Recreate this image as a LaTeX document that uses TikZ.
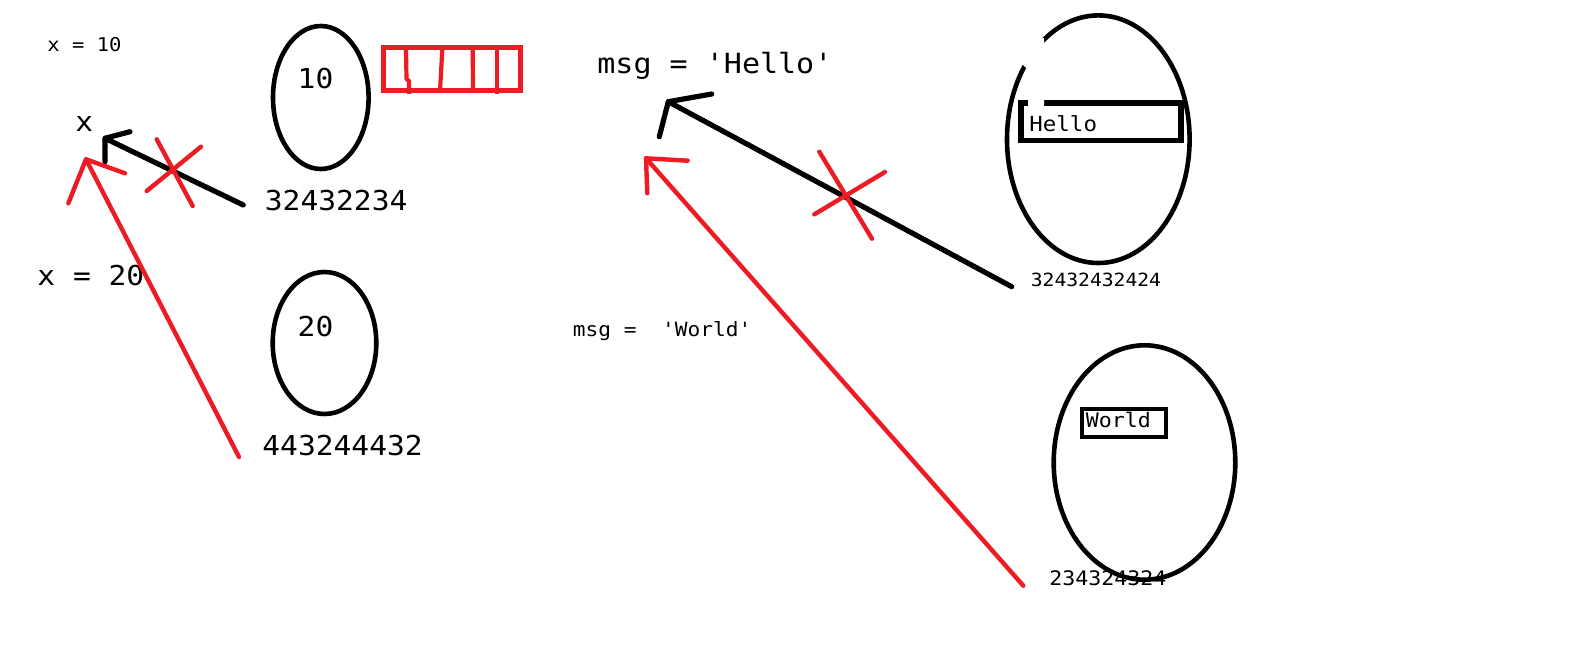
\documentclass[tikz,border=0pt]{standalone}
\usepackage{fontspec}
\setmonofont[FakeStretch=1.08]{DejaVu Sans Mono}
\usetikzlibrary{shapes.geometric}
\definecolor{paintred}{HTML}{ED1C24}
\begin{document}
\begin{tikzpicture}[x=0.5pt,y=-0.5pt,
  lbl/.style={inner sep=0pt, anchor=base west, font=\ttfamily\fontsize{#1}{#1}\selectfont},
  clbl/.style={inner sep=0pt, anchor=base, font=\ttfamily\fontsize{#1}{#1}\selectfont},
  memcell/.style={draw=black, ellipse, line width=2.3pt, inner sep=0pt},
  boxcell/.style={draw=black, rectangle, line width=2.6pt, inner sep=0pt},
  blkline/.style={draw=black, line width=2.6pt, line cap=round, line join=round},
  redline/.style={draw=paintred, line width=2.2pt, line cap=round, line join=round}
]
\useasboundingbox (0,0) rectangle (1586,663);
\fill[white] (0,0) rectangle (1586,663);

% ---------- left part ----------
\node[lbl=9.5] (xten) at (47,51.3) {x = 10};
\node[clbl=13.7] (xvar) at (84.2,131.7) {x};
\node[lbl=13.7] (xtwenty) at (37,285.5) {x = 20};

\node[memcell, minimum width=47.8pt, minimum height=71.5pt] (cellA) at (320.8,97.5) {};
\node[clbl=13.7] (vten) at (315.5,89) {10};
\node[lbl=13.7] (addrA) at (264.5,210.7) {32432234};

\node[memcell, minimum width=51.8pt, minimum height=71pt] (cellB) at (324.5,343) {};
\node[clbl=13.7] (vtwenty) at (315.5,336) {20};
\node[lbl=13.7] (addrB) at (262,455.5) {443244432};

% red bytes box
\node[draw=paintred, rectangle, line width=2.6pt, inner sep=0pt,
      minimum width=68.7pt, minimum height=21.5pt] (bytes) at (452,69.2) {};
\draw[redline, line width=2.1pt, line cap=butt] (406,49) -- (406.5,79) -- (409,81) -- (409,94);
\draw[redline, line width=2.1pt, line cap=butt] (442.3,50) -- (440,91);
\draw[redline, line width=2.1pt, line cap=butt] (472.7,49) -- (473,89);
\draw[redline, line width=2.1pt, line cap=butt] (497.3,49) -- (497.3,94);

% black arrow 32432234 -> x
\coordinate (bAs) at (243.3,205);
\coordinate (bAt) at (105,138.3);
\coordinate (bAh1) at (130,131.7);
\coordinate (bAh2) at (105,161.7);
\draw[blkline] (bAs) -- (bAt);
\draw[blkline] (bAh1) -- (bAt) -- (bAh2);

% red cross
\draw[redline] (156.7,139.3) -- (192.7,206);
\draw[redline] (201,146.7) -- (146.7,191);

% red arrow 443244432 -> x
\coordinate (rAs) at (239,457);
\coordinate (rAt) at (86,159.3);
\coordinate (rAh1) at (68.3,203.3);
\coordinate (rAh2) at (125,173.3);
\draw[redline] (rAs) -- (rAt);
\draw[redline] (rAh1) -- (rAt) -- (rAh2);

% ---------- right part ----------
\node[lbl=13.9] (msgH) at (597,73.3) {msg = 'Hello'};
\node[lbl=9.8] (msgW) at (572.5,336.7) {msg =\ \ 'World'};

\node[memcell, minimum width=91.3pt, minimum height=123.8pt] (cellC) at (1098.3,139.2) {};
\node[boxcell, minimum width=80pt, minimum height=18.75pt] (boxH) at (1101,121.75) {};
\fill[white] (1020,62) -- (1036,37) -- (1044,38) -- (1044,107.5) -- (1028,107.5) -- (1028,70) -- cycle;
\node[lbl=10.4] (hello) at (1029,131.7) {Hello};
\node[lbl=9.1] (addrC) at (1030.5,286.7) {32432432424};

\node[memcell, minimum width=90.8pt, minimum height=117.2pt] (cellD) at (1144.5,462.5) {};
\node[boxcell, line width=2.2pt, minimum width=41.85pt, minimum height=13.85pt] (boxW) at (1123.85,423.15) {};
\node[lbl=10] (world) at (1085.5,427.3) {World};
\node[lbl=10] (addrD) at (1049,585) {234324324};

% black arrow 32432432424 -> msg
\coordinate (bBs) at (1011.7,286.7);
\coordinate (bBt) at (668.3,101.7);
\coordinate (bBh1) at (711.7,94);
\coordinate (bBh2) at (659.3,136.7);
\draw[blkline] (bBs) -- (bBt);
\draw[blkline] (bBh1) -- (bBt) -- (bBh2);

% red cross
\draw[redline] (819.3,151.7) -- (872,238.7);
\draw[redline] (885,172) -- (814.3,214.4);

% red arrow 234324324 -> msg
\coordinate (rBs) at (1023.3,585.7);
\coordinate (rBt) at (646,158.3);
\coordinate (rBh1) at (687.7,160.7);
\coordinate (rBh2) at (647.3,193.3);
\draw[redline] (rBs) -- (rBt);
\draw[redline] (rBh1) -- (rBt) -- (rBh2);
\end{tikzpicture}
\end{document}
